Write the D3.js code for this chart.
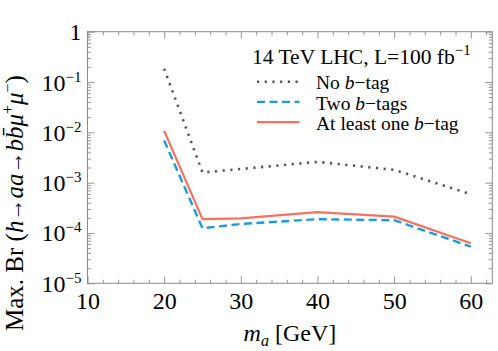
<!DOCTYPE html>
<html>
<head>
<meta charset="utf-8">
<script src="https://cdn.jsdelivr.net/npm/d3@7"></script>
<style>
  body { margin: 0; background: #fff; }
  text { font-family: "Liberation Serif", "Times New Roman", serif; }
</style>
</head>
<body>
<div id="chart"></div>
<script>
// values
const massPoints = [20, 25, 30, 40, 50, 60];
const noBtag = [0.184, 1.59e-3, 1.87e-3, 2.59e-3, 1.80e-3, 5.9e-4];
const twoBtags = [6.9e-3, 1.24e-4, 1.51e-4, 1.88e-4, 1.79e-4, 5.35e-5];
const oneBtag = [1.07e-2, 1.88e-4, 1.95e-4, 2.6e-4, 2.11e-4, 6.25e-5];

const xMajor = [10, 20, 30, 40, 50, 60];
const yDecades = [1e-5, 1e-4, 1e-3, 1e-2, 1e-1, 1];
const seriesNames = ["No b\u2212tag", "Two b\u2212tags", "At least one b\u2212tag"];

const W = 498, H = 351;
const pLeft = 87.5, pRight = 492.3, pTop = 31.7, pBottom = 283.3;

const svg = d3.select("#chart").append("svg")
  .attr("width", W).attr("height", H);

const x = d3.scaleLinear().domain([10, 62.8]).range([pLeft, pRight]);
const y = d3.scaleLog().domain([1e-5, 1]).range([pBottom, pTop]);

const frameColor = "#8a8a8a";
const serif = '"Liberation Serif", "Times New Roman", serif';

// minor ticks
const xMinor = d3.range(10, 63, 2).filter(v => v % 10 !== 0);
const yMinor = [];
yDecades.slice(0, -1).forEach(d => { for (let k = 2; k <= 9; k++) yMinor.push(d * k); });

function styleAxis(g) {
  g.attr("font-family", serif).attr("font-size", 24);
  g.select(".domain").remove();
  g.selectAll(".tick line").attr("stroke", frameColor).attr("stroke-width", 0.9);
}

// bottom
svg.append("g").attr("transform", `translate(0,${pBottom})`)
  .call(d3.axisBottom(x).tickValues(xMajor).tickSize(-7).tickFormat(d3.format("d")))
  .call(styleAxis)
  .call(g => g.selectAll("text").attr("y", 26).attr("dy", 0).attr("fill", "#000"));
svg.append("g").attr("transform", `translate(0,${pBottom})`)
  .call(d3.axisBottom(x).tickValues(xMinor).tickSize(-3.5).tickFormat(""))
  .call(styleAxis);
// top
svg.append("g").attr("transform", `translate(0,${pTop})`)
  .call(d3.axisTop(x).tickValues(xMajor).tickSize(-7).tickFormat(""))
  .call(styleAxis);
svg.append("g").attr("transform", `translate(0,${pTop})`)
  .call(d3.axisTop(x).tickValues(xMinor).tickSize(-3.5).tickFormat(""))
  .call(styleAxis);

// left
svg.append("g").attr("transform", `translate(${pLeft},0)`)
  .call(d3.axisLeft(y).tickValues(yDecades).tickSize(-7).tickFormat(""))
  .call(styleAxis)
  .call(g => g.selectAll(".tick").each(function (d) {
    const t = d3.select(this).select("text")
      .attr("x", -6).attr("y", 8).attr("dy", 0)
      .attr("text-anchor", "end").attr("fill", "#000");
    const e = Math.round(Math.log10(d));
    if (e === 0) { t.text("1"); return; }
    t.append("tspan").text("10");
    t.append("tspan").attr("font-size", 15).attr("dy", -9).text("\u2212" + (-e));
  }));
svg.append("g").attr("transform", `translate(${pLeft},0)`)
  .call(d3.axisLeft(y).tickValues(yMinor).tickSize(-3.5).tickFormat(""))
  .call(styleAxis);
// right
svg.append("g").attr("transform", `translate(${pRight},0)`)
  .call(d3.axisRight(y).tickValues(yDecades).tickSize(-7).tickFormat(""))
  .call(styleAxis);
svg.append("g").attr("transform", `translate(${pRight},0)`)
  .call(d3.axisRight(y).tickValues(yMinor).tickSize(-3.5).tickFormat(""))
  .call(styleAxis);

// frame
svg.append("rect")
  .attr("x", pLeft).attr("y", pTop)
  .attr("width", pRight - pLeft).attr("height", pBottom - pTop)
  .attr("fill", "none").attr("stroke", frameColor).attr("stroke-width", 1);

// curves
const styles = [
  { color: "#555555", width: 2.6, dash: "2.2,5.5" },
  { color: "#1b9bd7", width: 2.4, dash: "8,4.5" },
  { color: "#f9705f", width: 2.2, dash: null }
];
const allSeries = [noBtag, twoBtags, oneBtag];

const line = d3.line().x(d => x(d[0])).y(d => y(d[1]));

[0, 1, 2].forEach(i => {
  const pts = massPoints.map((m, j) => [m, allSeries[i][j]]);
  svg.append("path")
    .datum(pts)
    .attr("d", line)
    .attr("fill", "none")
    .attr("stroke", styles[i].color)
    .attr("stroke-width", styles[i].width)
    .attr("stroke-dasharray", styles[i].dash)
    .attr("stroke-linejoin", "round");
});

// legend
const leg = svg.append("g");
const title = leg.append("text").attr("x", 252).attr("y", 64.3).attr("font-size", 21.5);
title.append("tspan").text("14 TeV LHC, L=100 fb");
title.append("tspan").attr("font-size", 15).attr("dy", -9).text("\u22121");

seriesNames.forEach((name, i) => {
  const ly = 81.7 + i * 20.2;
  leg.append("line")
    .attr("x1", 257).attr("x2", 299.5).attr("y1", ly).attr("y2", ly)
    .attr("stroke", styles[i].color)
    .attr("stroke-width", styles[i].width)
    .attr("stroke-dasharray", styles[i].dash);
  const parts = name.split("b\u2212");
  const t = leg.append("text").attr("x", 316).attr("y", ly + 7.6).attr("font-size", 19.5);
  t.append("tspan").text(parts[0]);
  t.append("tspan").attr("font-style", "italic").text("b");
  t.append("tspan").text("\u2212" + parts[1]);
});

// x label
const xl = svg.append("text").attr("x", (pLeft + pRight) / 2).attr("y", 341)
  .attr("text-anchor", "middle").attr("font-size", 24);
xl.append("tspan").attr("font-style", "italic").text("m");
xl.append("tspan").attr("font-style", "italic").attr("font-size", 16).attr("dy", 5).text("a");
xl.append("tspan").attr("dy", -5).text(" [GeV]");

// y label
const yl = svg.append("text")
  .attr("transform", "translate(23,331) rotate(-90)")
  .attr("text-anchor", "start").attr("font-size", 25);
yl.append("tspan").text("Max. Br (");
yl.append("tspan").attr("font-style", "italic").text("h");
yl.append("tspan").attr("font-size", 22).attr("dy", -1).text("\u2192");
yl.append("tspan").attr("font-style", "italic").attr("dy", 1).text("aa");
yl.append("tspan").attr("font-size", 22).attr("dy", -1).text("\u2192");
yl.append("tspan").attr("font-style", "italic").attr("dy", 1).text("b");
yl.append("tspan").attr("font-style", "italic").text("b\u0304");
yl.append("tspan").attr("font-style", "italic").text("\u03bc");
yl.append("tspan").attr("font-size", 16).attr("dy", -10).text("+");
yl.append("tspan").attr("font-style", "italic").attr("dy", 10).text("\u03bc");
yl.append("tspan").attr("font-size", 16).attr("dy", -10).text("\u2212");
yl.append("tspan").attr("dy", 10).text(")");
</script>
</body>
</html>
